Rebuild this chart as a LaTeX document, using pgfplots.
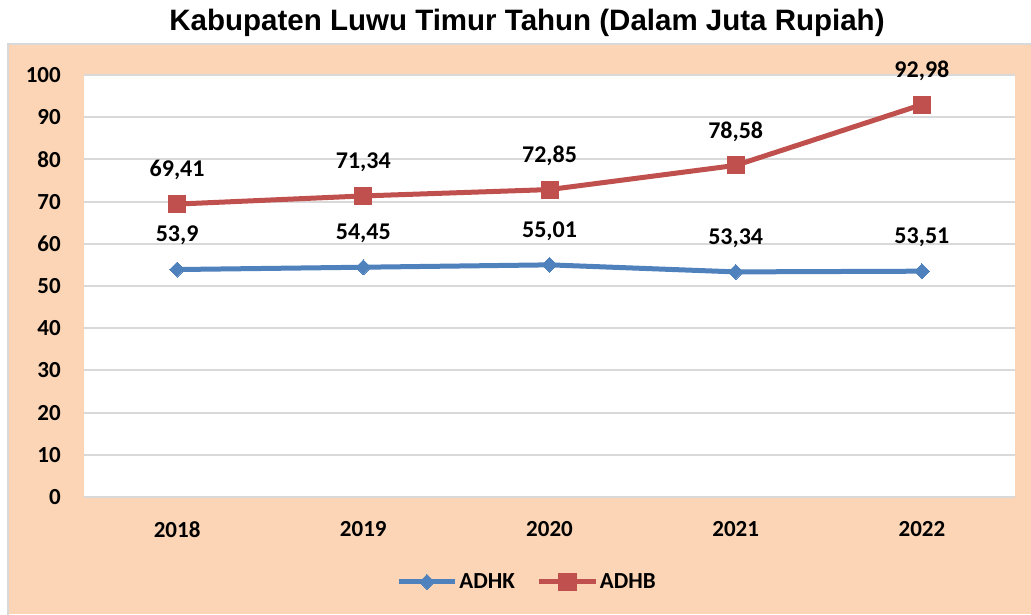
\documentclass[border=0pt]{standalone}
\usepackage{pgfplots}
\pgfplotsset{compat=1.18}
\usepackage{fontspec}
\setmainfont{Carlito}
\newfontfamily\titlefont{Liberation Sans}
\definecolor{peach}{HTML}{FBD5B5}
\definecolor{adhk}{HTML}{4F81BD}
\definecolor{adhb}{HTML}{C0504D}
\definecolor{framegray}{HTML}{D9D9D9}

\begin{document}
\begin{tikzpicture}[x=1pt,y=1pt]
\useasboundingbox (0,0) rectangle (1031,614);
\fill[peach] (8,0) rectangle (1040,570);
\draw[framegray, line width=2pt] (8,-2) -- (8,570) -- (1040,570);
\node[font=\titlefont\bfseries\fontsize{29.5}{33}\selectfont] at (527,591) {Kabupaten Luwu Timur Tahun (Dalam Juta Rupiah)};
\begin{axis}[
    at={(84pt,117pt)}, anchor=south west,
    scale only axis, width=931pt, height=422pt,
    xmin=-0.5, xmax=4.5, ymin=0, ymax=100,
    ytick={0,10,...,100},
    xtick={0,1,2,3,4}, xticklabels={2018,2019,2020,2021,2022},
    major tick length=0pt,
    axis line style={draw=none},
    axis background/.style={fill=white},
    ymajorgrids, grid style={framegray, line width=2pt},
    /pgf/number format/assume math mode=true,
    tick label style={font=\bfseries\fontsize{23}{26}\selectfont, inner sep=0pt},
    yticklabel style={anchor=east, xshift=-23pt},
    xticklabel style={anchor=north, yshift=-24pt},
    clip=false,
    nodes near coords,
    point meta=explicit symbolic,
    nodes near coords style={font=\bfseries\fontsize{24}{27}\selectfont, text=black, anchor=center, yshift=34pt},
    legend style={at={(0.476,-0.201)}, anchor=center, draw=none, fill=none,
        font=\bfseries\fontsize{23}{26}\selectfont,
        /tikz/every even column/.append style={column sep=20pt}},
    legend columns=2,
    legend image code/.code={\draw[mark repeat=2,mark phase=2,#1] plot coordinates {(0pt,0pt)(28pt,0pt)(56pt,0pt)};},
]
\addplot[adhk, line width=5pt, mark=square*, mark size=5.3pt, mark options={rotate=45, line width=0pt, fill=adhk}]
  coordinates {(0,53.90)[53,9] (1,54.45)[54,45] (2,55.01)[55,01] (3,53.34)[53,34] (4,53.51)[53,51]};
\addlegendentry{ADHK}
\addplot[adhb, line width=5pt, mark=square*, mark size=8.5pt, mark options={line width=0pt, fill=adhb}]
  coordinates {(0,69.41)[69,41] (1,71.34)[71,34] (2,72.85)[72,85] (3,78.58)[78,58] (4,92.98)[92,98]};
\addlegendentry{ADHB}
\end{axis}
\end{tikzpicture}
\end{document}
